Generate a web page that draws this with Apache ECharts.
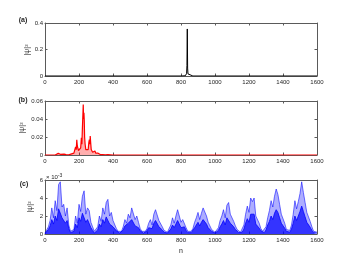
<!DOCTYPE html>
<html>
<head>
<meta charset="utf-8">
<script src="https://cdn.jsdelivr.net/npm/echarts@6/dist/echarts.min.js"></script>
<style>
html, body { margin: 0; padding: 0; background: #fff; }
#chart { width: 350px; height: 263px; }
</style>
</head>
<body>
<div id="chart"></div>
<script>
// panel (a): single narrow peak
var nA = [0, 800, 826, 830, 833, 835, 837, 839, 841, 844, 848, 870, 1600];
var psiA = [0, 0, 0.002, 0.008, 0.02, 0.08, 0.355, 0.06, 0.016, 0.006, 0.001, 0, 0];

// panel (b): spread around n ~ 225
var nB = [0, 60, 70, 78, 84, 90, 100, 112, 118, 124, 140, 152, 157, 162, 170, 176, 180, 184, 187, 190,
    194, 197, 201, 206, 210, 214, 217, 220, 223, 225, 227, 229, 231, 233, 236, 240, 245, 250, 254, 258,
    261, 264, 266, 269, 272, 275, 280, 286, 290, 294, 298, 304, 310, 316, 325, 333, 340, 355, 363, 370,
    380, 400, 1600];
var psiB = [0, 0, 0.0005, 0.0018, 0.0022, 0.0008, 0.0006, 0.001, 0.0012, 0.0004, 0.0003, 0.001, 0.0016, 0.0006, 0.002, 0.004, 0.009, 0.006, 0.017, 0.01,
    0.008, 0.005, 0.007, 0.004, 0.008, 0.019, 0.012, 0.03, 0.045, 0.056, 0.04, 0.047, 0.038, 0.02, 0.012, 0.006, 0.008, 0.004, 0.006, 0.014,
    0.017, 0.012, 0.021, 0.013, 0.006, 0.008, 0.003, 0.002, 0.003, 0.0045, 0.002, 0.001, 0.0022, 0.0008, 0.0005, 0.0015, 0.0004, 0.0003, 0.0015, 0.0004,
    0.0002, 0, 0];

// panel (c): values in units of 1e-3, sampled every 10 sites
var stepC = 10;
var psiCtop = [
    0.1, 0.3, 0.8, 1.5, 2.9, 1.8, 3.7, 2.6, 5.5, 5.8, 3.0, 3.3, 2.0, 2.9, 1.0, 0.3,
    0.2, 0.5, 2.0, 1.2, 3.3, 2.5, 4.2, 4.8, 2.2, 2.9, 2.6, 1.3, 0.8, 0.3,
    0.3, 0.8, 2.0, 1.4, 2.9, 2.2, 3.5, 3.85, 2.0, 2.4, 1.5, 1.3, 0.6, 0.3, 0.2,
    0.3, 0.8, 1.6, 1.2, 2.2, 1.8, 2.9, 3.1, 1.6, 2.0, 1.3, 0.6, 0.3, 0.2,
    0.3, 0.6, 1.2, 1.6, 1.0, 2.2, 2.7, 2.6, 1.5, 1.4, 0.8, 0.4, 0.2,
    0.2, 0.4, 1.0, 1.8, 1.2, 2.0, 2.7, 2.5, 1.3, 1.6, 1.4, 0.7, 0.3, 0.2,
    0.3, 0.6, 1.3, 1.8, 2.4, 1.6, 2.3, 2.9, 2.7, 2.0, 1.3, 0.9, 0.5, 0.3, 0.2,
    0.3, 0.7, 1.5, 2.0, 2.7, 1.8, 3.2, 3.5, 2.2, 2.0, 1.4, 0.9, 0.5, 0.3, 0.2,
    0.4, 1.0, 2.2, 3.1, 2.4, 4.0, 3.6, 4.0, 2.0, 2.2, 1.2, 0.6, 0.3,
    0.3, 0.8, 1.8, 2.6, 3.7, 3.0, 4.2, 5.0, 4.4, 3.3, 2.2, 2.4, 1.2, 0.5, 0.3,
    0.4, 1.0, 2.2, 3.7, 2.8, 3.6, 4.5, 5.8, 4.6, 3.5, 2.4, 2.5, 1.4, 0.8, 0.3, 0.2, 0.2
];
var psiCcore = [
    0.05, 0.2, 0.5, 0.9, 1.6, 1.1, 2.0, 1.5, 2.8, 3.0, 1.8, 1.9, 1.2, 1.5, 0.6, 0.15,
    0.1, 0.3, 1.1, 0.7, 1.8, 1.4, 2.3, 2.5, 1.3, 1.6, 1.4, 0.7, 0.4, 0.1,
    0.15, 0.45, 1.1, 0.8, 1.6, 1.2, 1.9, 2.1, 1.1, 1.3, 0.8, 0.7, 0.35, 0.15, 0.1,
    0.15, 0.45, 0.9, 0.7, 1.2, 1.0, 1.6, 1.7, 0.9, 1.1, 0.7, 0.35, 0.15, 0.1,
    0.15, 0.35, 0.7, 0.9, 0.6, 1.2, 1.5, 1.4, 0.8, 0.8, 0.45, 0.2, 0.1,
    0.1, 0.2, 0.55, 1.0, 0.7, 1.1, 1.5, 1.4, 0.7, 0.9, 0.8, 0.4, 0.15, 0.1,
    0.15, 0.35, 0.7, 1.0, 1.3, 0.9, 1.3, 1.6, 1.5, 1.1, 0.7, 0.5, 0.3, 0.15, 0.1,
    0.15, 0.4, 0.8, 1.1, 1.5, 1.0, 1.8, 1.9, 1.2, 1.1, 0.8, 0.5, 0.3, 0.15, 0.1,
    0.2, 0.55, 1.2, 1.7, 1.3, 2.2, 2.0, 2.2, 1.1, 1.2, 0.65, 0.35, 0.15,
    0.15, 0.45, 1.0, 1.4, 2.0, 1.6, 2.3, 2.7, 2.4, 1.8, 1.2, 1.3, 0.65, 0.3, 0.15,
    0.2, 0.55, 1.2, 2.0, 1.5, 2.0, 2.5, 3.1, 2.5, 1.9, 1.3, 1.4, 0.75, 0.4, 0.15, 0.1, 0.1
];

var axisColor = '#5a5a5a';
var textColor = '#262626';
var fontFam = 'Liberation Sans, Arial, sans-serif';

function pairs(xs, ys) {
    var out = [];
    for (var i = 0; i < xs.length; i++) {
        out.push([xs[i], ys[i]]);
    }
    return out;
}

function gridPairs(step, ys) {
    var out = [];
    for (var i = 0; i < ys.length; i++) {
        out.push([i * step, ys[i]]);
    }
    return out;
}

function xAx(g, pos) {
    return {
        type: 'value', gridIndex: g, position: pos, min: 0, max: 1600, interval: 200,
        axisLine: {show: true, onZero: false, lineStyle: {color: axisColor, width: 1}},
        axisTick: {show: true, inside: true, length: 2.5, lineStyle: {color: axisColor, width: 1}},
        axisLabel: {show: pos == 'bottom', fontSize: 6, color: textColor, margin: 3, fontFamily: fontFam,
            formatter: function (v) { return String(v); }},
        splitLine: {show: false}
    };
}

function yAx(g, pos, max, interval) {
    return {
        type: 'value', gridIndex: g, position: pos, min: 0, max: max, interval: interval,
        axisLine: {show: true, onZero: false, lineStyle: {color: axisColor, width: 1}},
        axisTick: {show: true, inside: true, length: 2.5, lineStyle: {color: axisColor, width: 1}},
        axisLabel: {show: pos == 'left', fontSize: 6, color: textColor, margin: 2, fontFamily: fontFam},
        splitLine: {show: false}
    };
}

function txt(x, y, s, size, bold, rot) {
    return {
        type: 'text', x: x, y: y, rotation: rot || 0,
        style: {text: s, fontSize: size, fontWeight: bold ? 'bold' : 'normal', fill: textColor,
            fontFamily: fontFam, align: 'center', verticalAlign: 'middle'}
    };
}

var myChart = echarts.init(document.getElementById('chart'));
var option = {
    animation: false,
    grid: [
        {left: 45, top: 23, width: 272, height: 53},
        {left: 45, top: 101, width: 272, height: 54},
        {left: 45, top: 180, width: 272, height: 54}
    ],
    xAxis: [xAx(0, 'bottom'), xAx(0, 'top'), xAx(1, 'bottom'), xAx(1, 'top'), xAx(2, 'bottom'), xAx(2, 'top')],
    yAxis: [yAx(0, 'left', 0.4, 0.2), yAx(0, 'right', 0.4, 0.2),
        yAx(1, 'left', 0.06, 0.02), yAx(1, 'right', 0.06, 0.02),
        yAx(2, 'left', 6, 2), yAx(2, 'right', 6, 2)],
    series: [
        {
            type: 'line', xAxisIndex: 0, yAxisIndex: 0, data: pairs(nA, psiA),
            showSymbol: false, lineStyle: {color: '#000', width: 1}
        },
        {
            type: 'line', xAxisIndex: 2, yAxisIndex: 2, data: pairs(nB, psiB),
            showSymbol: false, lineStyle: {color: '#ff0000', width: 1.2},
            areaStyle: {color: 'rgba(255,0,0,0.45)'}
        },
        {
            type: 'line', xAxisIndex: 4, yAxisIndex: 4, data: gridPairs(stepC, psiCtop),
            showSymbol: false, lineStyle: {color: 'rgba(0,0,255,0.7)', width: 0.8},
            areaStyle: {color: 'rgba(0,0,255,0.45)'}
        },
        {
            type: 'line', xAxisIndex: 4, yAxisIndex: 4, data: gridPairs(stepC, psiCcore),
            showSymbol: false, lineStyle: {color: '#0000ff', width: 0.8},
            areaStyle: {color: '#0000ff'}
        }
    ],
    graphic: [
        txt(23, 20, '(a)', 7, true),
        txt(23, 100, '(b)', 7, true),
        txt(24, 184, '(c)', 7, true),
        txt(27.5, 50, '|ψ|²', 7, false, Math.PI / 2),
        txt(22, 128, '|ψ|²', 7, false, Math.PI / 2),
        txt(30, 207, '|ψ|²', 7, false, Math.PI / 2),
        txt(181, 251, 'n', 7, false),
        {
            type: 'text', x: 46, y: 173,
            style: {text: '× 10{s|-3}', fontSize: 6, fill: textColor, fontFamily: fontFam,
                rich: {s: {fontSize: 5, fill: textColor, fontFamily: fontFam, padding: [0, 0, 4, 0]}}}
        }
    ]
};
myChart.setOption(option);
</script>
</body>
</html>
